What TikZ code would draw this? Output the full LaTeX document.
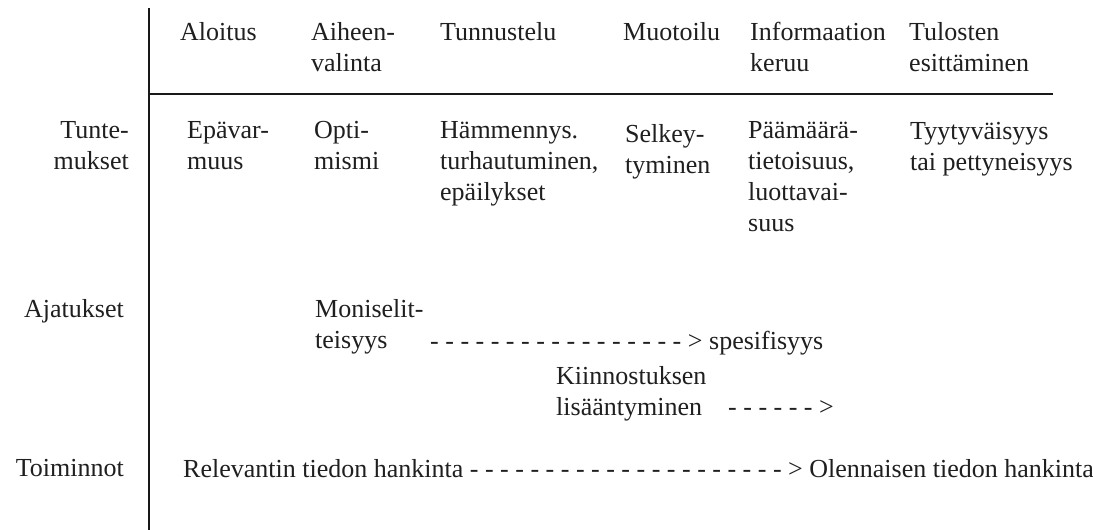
\documentclass[tikz,border=0pt]{standalone}
\usepackage{fontspec}
\setmainfont{Liberation Serif}
\begin{document}
\begin{tikzpicture}[x=1pt,y=-1pt,
  % multi-line cells are placed by the baseline of their last line
  txt/.style={inner sep=0pt, anchor=base west, align=left, text=black!88,
    font=\fontsize{26}{31}\selectfont},
  rowlabel/.style={txt, anchor=base east, align=right},
  rule/.style={line width=2.6pt, draw=black!90}]
\clip (0,0) rectangle (1093,530);
\fill[white] (0,0) rectangle (1093,530);

% axes of the table
\coordinate (vtop) at (149,8);
\coordinate (vbot) at (149,530);
\coordinate (hleft) at (149,94);
\coordinate (hright) at (1053,94);
\draw[rule] (vtop) -- (vbot);
\draw[rule] (hleft) -- (hright);

% phase headings
\node[txt] (aloitus) at (180,40) {Aloitus};
\node[txt] (aihe) at (311,71) {Aiheen-\\valinta};
\node[txt] (tunnustelu) at (440,40) {Tunnustelu};
\node[txt] (muotoilu) at (623,40) {Muotoilu};
\node[txt] (info) at (750,71) {Informaation\\keruu};
\node[txt] (tulosten) at (909,71) {Tulosten\\esittäminen};

% row labels
\node[rowlabel] (tunteet) at (129,169) {Tunte-\\mukset};
\node[rowlabel] (ajatukset) at (124,317) {Ajatukset};
\node[rowlabel] (toiminnot) at (124,476) {Toiminnot};

% feelings
\node[txt] (epavarmuus) at (187,169) {Epävar-\\muus};
\node[txt] (optimismi) at (314,169) {Opti-\\mismi};
\node[txt] (hammennys) at (440,200) {Hämmennys.\\turhautuminen,\\epäilykset};
\node[txt] (selkey) at (625,173) {Selkey-\\tyminen};
\node[txt] (paamaara) at (748,231) {Päämäärä-\\tietoisuus,\\luottavai-\\suus};
\node[txt] (tyyty) at (910,170) {Tyytyväisyys\\tai pettyneisyys};

% thoughts
\node[txt] (monisel) at (315,348) {Moniselit-\\teisyys};
\node[txt] (dashA) at (430,349) {- - - - - - - - - - - - - - - - - >};
\node[txt] (spesif) at (709,349) {spesifisyys};
\node[txt] (kiinn) at (556,415) {Kiinnostuksen\\lisääntyminen};
\node[txt] (dashB) at (728,415) {- - - - - - >};

% actions
\node[txt] (relev) at (183,477) {Relevantin tiedon hankinta - - - - - - - - - - - - - - - - - - - - - > Olennaisen tiedon hankinta};
\end{tikzpicture}
\end{document}
